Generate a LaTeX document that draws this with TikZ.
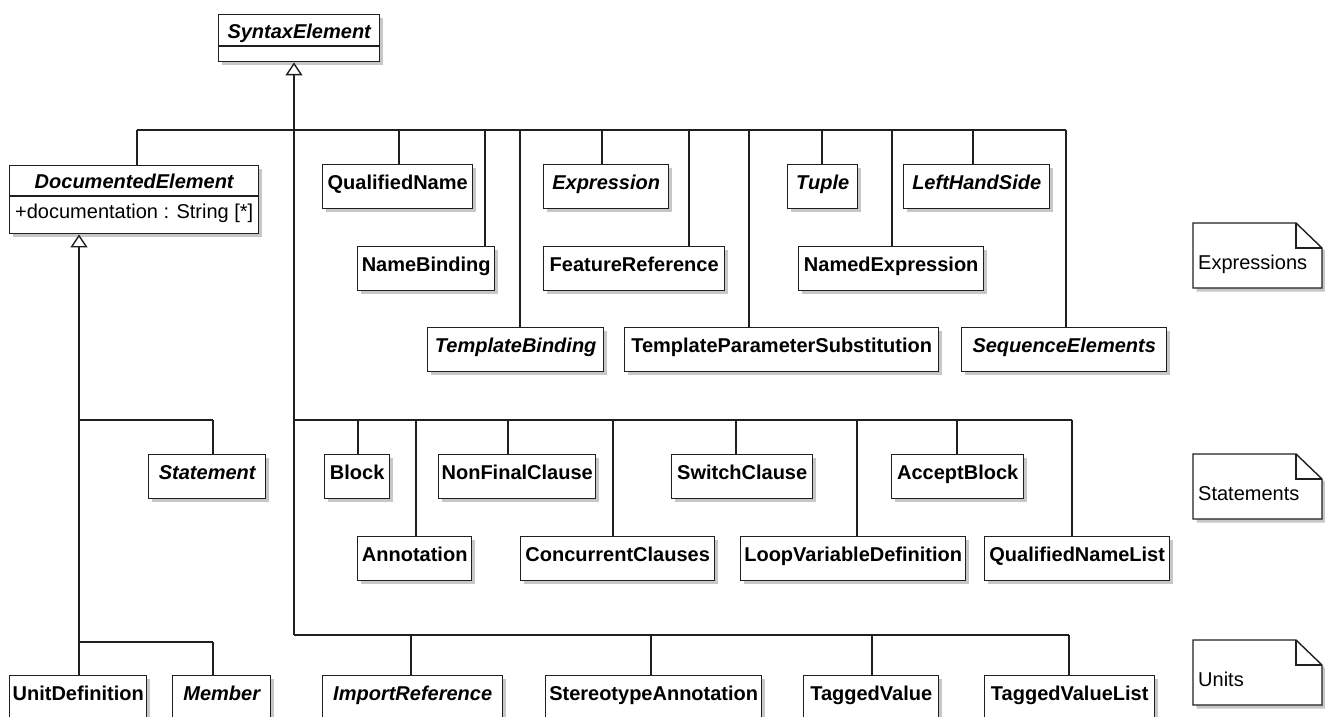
\documentclass[tikz,border=0pt]{standalone}
\usepackage{fontspec}
\setmainfont{Liberation Sans}
\usetikzlibrary{arrows.meta,shadows}
\tikzset{
 conn/.style={line width=1.4pt, draw=black!88},
 box/.style={draw=black!88, line width=1.4pt, fill=white, inner sep=0pt, anchor=north west,
   minimum height=44pt, text height=14.5pt, text depth=9.5pt,
   font=\fontsize{20}{22}\selectfont\bfseries,
   drop shadow={shadow xshift=3.5pt, shadow yshift=-3.5pt, fill=black!22, opacity=1}},
 abs/.style={box, font=\fontsize{20}{22}\selectfont\bfseries\itshape},
 notetxt/.style={inner sep=0pt, anchor=base west, font=\fontsize{20}{22}\selectfont},
 gen/.style={conn, -{Triangle[open, length=13pt, width=17pt, line width=1.4pt]}},
}
\newcommand\umlcls[6]{\node[#1, minimum width=#5pt] (#2) at (#3,#4) {#6};}
\newcommand\umlhang[3]{\coordinate (#1-c) at (#2,#3); \draw[conn] (#1-c) -- (#1-c |- #1.north);}
\newcommand\umlnote[4]{%
 \coordinate (#1-nw) at (#2,#3);
 \fill[black!22] ([shift={(3.5pt,-3.5pt)}]#1-nw) -- ++(103,0) -- ++(26,25) -- ++(0,40) -- ++(-129,0) -- cycle;
 \draw[conn, fill=white] (#1-nw) -- ++(103,0) -- ++(26,25) -- ++(0,40) -- ++(-129,0) -- cycle;
 \draw[conn] ([xshift=103pt]#1-nw) -- ++(0,25) -- ++(26,0);
 \node[notetxt] (#1) at ([shift={(5pt,-46pt)}]#1-nw) {#4};}
\begin{document}
\begin{tikzpicture}[x=1pt,y=-1pt]
\useasboundingbox (0,0) rectangle (1325,717);
\clip (0,0) rectangle (1325,717);
\fill[white] (0,0) rectangle (1325,717);
% root
\node[abs, minimum width=161pt, minimum height=47pt, text depth=14.5pt] (se) at (218,14) {SyntaxElement};
\draw[conn] ([yshift=-32pt]se.north west) -- ([yshift=-32pt]se.north east);
\node[abs, minimum width=249pt, minimum height=68pt, text depth=37.5pt] (de) at (9,165) {DocumentedElement};
\draw[conn] ([yshift=-31pt]de.north west) -- ([yshift=-31pt]de.north east);
\node[notetxt] (de-a) at (15,218) {+documentation : String [*]};
% expressions
\umlcls{box}{qn}{322}{164}{150}{QualifiedName}
\umlcls{abs}{expr}{543}{164}{125}{Expression}
\umlcls{abs}{tuple}{787}{164}{70}{Tuple}
\umlcls{abs}{lhs}{903}{164}{146}{LeftHandSide}
\umlcls{box}{nb}{357}{246}{137}{NameBinding}
\umlcls{box}{fr}{543}{246}{181}{FeatureReference}
\umlcls{box}{ne}{798}{246}{185}{NamedExpression}
\umlcls{abs}{tb}{427}{327}{176}{TemplateBinding}
\umlcls{box}{tps}{624}{327}{314}{TemplateParameterSubstitution}
\umlcls{abs}{seqe}{961}{327}{205}{SequenceElements}
% statements
\umlcls{abs}{stm}{148}{454}{117}{Statement}
\umlcls{box}{blk}{324}{454}{65}{Block}
\umlcls{box}{nfc}{438}{454}{157}{NonFinalClause}
\umlcls{box}{sc}{671}{454}{141}{SwitchClause}
\umlcls{box}{ab}{891}{454}{132}{AcceptBlock}
\umlcls{box}{ann}{357}{536}{114}{Annotation}
\umlcls{box}{cc}{520}{536}{194}{ConcurrentClauses}
\umlcls{box}{lvd}{740}{536}{225}{LoopVariableDefinition}
\umlcls{box}{qnl}{984}{536}{185}{QualifiedNameList}
% units
\umlcls{box}{ud}{9}{675}{137}{UnitDefinition}
\umlcls{abs}{mem}{172}{675}{98}{Member}
\umlcls{abs}{ir}{322}{675}{180}{ImportReference}
\umlcls{box}{sa}{545}{675}{216}{StereotypeAnnotation}
\umlcls{box}{tv}{803}{675}{135}{TaggedValue}
\umlcls{box}{tvl}{984}{675}{170}{TaggedValueList}
% hangers
\umlhang{de}{137}{130}
\umlhang{qn}{399}{130}
\umlhang{nb}{485}{130}
\umlhang{tb}{520}{130}
\umlhang{expr}{602}{130}
\umlhang{fr}{689}{130}
\umlhang{tps}{749}{130}
\umlhang{tuple}{822}{130}
\umlhang{ne}{892}{130}
\umlhang{lhs}{973}{130}
\umlhang{seqe}{1066}{130}
\umlhang{blk}{358}{420}
\umlhang{ann}{416}{420}
\umlhang{nfc}{508}{420}
\umlhang{cc}{613}{420}
\umlhang{sc}{736}{420}
\umlhang{lvd}{857}{420}
\umlhang{ab}{957}{420}
\umlhang{qnl}{1072}{420}
\umlhang{stm}{213}{420}
\umlhang{ir}{411}{635}
\umlhang{sa}{651}{635}
\umlhang{tv}{872}{635}
\umlhang{tvl}{1069}{635}
\umlhang{mem}{213}{642}
% buses and trunks
\draw[conn] (de-c) -- (seqe-c);
\coordinate (t1) at (294,635);
\draw[gen] (t1) -- (t1 |- se.south);
\draw[conn] (t1 |- blk-c) -- (qnl-c);
\draw[conn] (t1) -- (tvl-c);
\coordinate (t2) at (79,675);
\draw[gen] (t2 |- ud.north) -- (t2 |- de.south);
\draw[conn] (t2 |- stm-c) -- (stm-c);
\draw[conn] (t2 |- mem-c) -- (mem-c);
% notes
\umlnote{nexp}{1193}{223}{Expressions}
\umlnote{nstm}{1193}{454}{Statements}
\umlnote{nunit}{1193}{640}{Units}
\end{tikzpicture}
\end{document}
